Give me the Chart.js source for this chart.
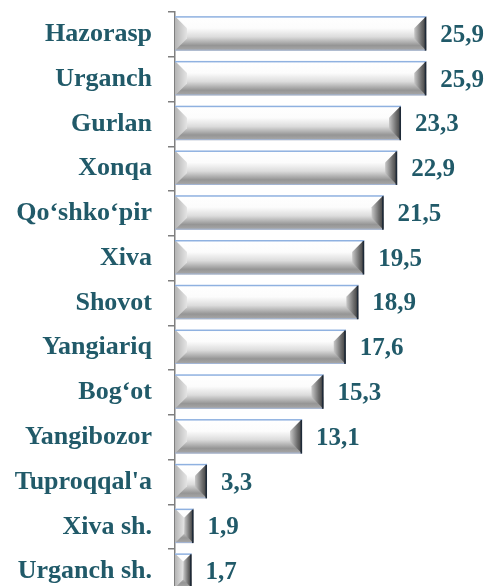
<!DOCTYPE html>
<html>
<head>
<meta charset="utf-8">
<script src="https://cdn.jsdelivr.net/npm/chart.js@4"></script>
<style>
html,body{margin:0;padding:0;background:#fff;overflow:hidden;}
#wrap{width:488px;height:594px;position:relative;}
</style>
</head>
<body>
<div id="wrap"><canvas id="c"></canvas></div>
<script>
const categories = ['Hazorasp','Urganch','Gurlan','Xonqa','Qo\u2018shko\u2018pir','Xiva','Shovot','Yangiariq','Bog\u2018ot','Yangibozor',"Tuproqqal'a",'Xiva sh.','Urganch sh.'];
const values = [25.9,25.9,23.3,22.9,21.5,19.5,18.9,17.6,15.3,13.1,3.3,1.9,1.7];
const valueLabels = values.map(v => v.toFixed(1).replace('.', ','));

const TEXT = '#215A69';
const FONT = "'Liberation Serif','Times New Roman',serif";

function poly(ctx, pts, fill){
  ctx.beginPath();
  ctx.moveTo(pts[0][0], pts[0][1]);
  for (let i=1;i<pts.length;i++) ctx.lineTo(pts[i][0], pts[i][1]);
  ctx.closePath();
  ctx.fillStyle = fill;
  ctx.fill();
}

function faceGrad(ctx, T, B){
  const g = ctx.createLinearGradient(0, T, 0, B);
  g.addColorStop(0, '#ffffff');
  g.addColorStop(0.35, '#fcfcfc');
  g.addColorStop(0.6, '#dcdcdc');
  g.addColorStop(0.85, '#959595');
  g.addColorStop(1, '#a9a9a9');
  return g;
}

const bevelPlugin = {
  id: 'bevel',
  afterDatasetsDraw(chart){
    const ctx = chart.ctx;
    const meta = chart.getDatasetMeta(0);
    ctx.save();
    meta.data.forEach((bar, i) => {
      const p = bar.getProps(['x','y','base','height'], true);
      const L = Math.min(p.base, p.x), R = Math.max(p.base, p.x);
      const T = p.y - p.height/2 - 1, B = p.y + p.height/2 - 1;
      const w = R - L, h = B - T;
      const b = Math.min(12, h/2, w/2);
      ctx.fillStyle = faceGrad(ctx, T, B);
      ctx.fillRect(L, T, w, h);
      // left bevel
      let gl = ctx.createLinearGradient(L, 0, L+b, 0);
      gl.addColorStop(0, '#b4b4b4'); gl.addColorStop(1, '#e4e4e4');
      poly(ctx, [[L,T],[L+b,T+b],[L+b,B-b],[L,B]], gl);
      // right bevel
      let gr = ctx.createLinearGradient(R-b, 0, R, 0);
      gr.addColorStop(0, '#c8c8c8'); gr.addColorStop(0.6, '#6e6e6e'); gr.addColorStop(1, '#3c3c3c');
      poly(ctx, [[R,T],[R-b,T+b],[R-b,B-b],[R,B]], gr);
      // edges
      ctx.fillStyle = '#8fb1e0';
      ctx.fillRect(L, T, w, 1.5);
      ctx.fillStyle = '#a3b6d6';
      ctx.fillRect(L, B-1, w, 1);
      ctx.fillStyle = '#1e2a38';
      ctx.fillRect(R-1.5, T+1, 1.5, h-1);
      // value label
      ctx.fillStyle = TEXT;
      ctx.font = "bold 25px " + FONT;
      ctx.textAlign = 'left';
      ctx.textBaseline = 'middle';
      ctx.fillText(valueLabels[i], R + 14, p.y + 1);
    });
    ctx.restore();
  }
};

new Chart(document.getElementById('c'), {
  type: 'bar',
  data: {
    labels: categories,
    datasets: [{
      data: values,
      backgroundColor: 'rgba(0,0,0,0)',
      borderWidth: 0,
      barPercentage: 0.77,
      categoryPercentage: 1
    }]
  },
  options: {
    indexAxis: 'y',
    responsive: true,
    maintainAspectRatio: false,
    animation: false,
    layout: { padding: { top: 12, right: 22, bottom: 0, left: 0 } },
    plugins: { legend: { display: false }, tooltip: { enabled: false } },
    scales: {
      x: { display: false, min: 0, max: 30 },
      y: {
        afterFit(scale){ scale.width = 175; scale.paddingTop = 0; scale.paddingBottom = 0; },
        border: { display: true, color: '#7f7f7f', width: 1.5 },
        grid: { display: true, drawOnChartArea: false, drawTicks: true, tickLength: 7, color: '#7f7f7f', lineWidth: 1.5, offset: true },
        ticks: { color: TEXT, padding: 16, font: { family: FONT, size: 26, weight: 'bold' } }
      }
    }
  },
  plugins: [bevelPlugin]
});
</script>
</body>
</html>
